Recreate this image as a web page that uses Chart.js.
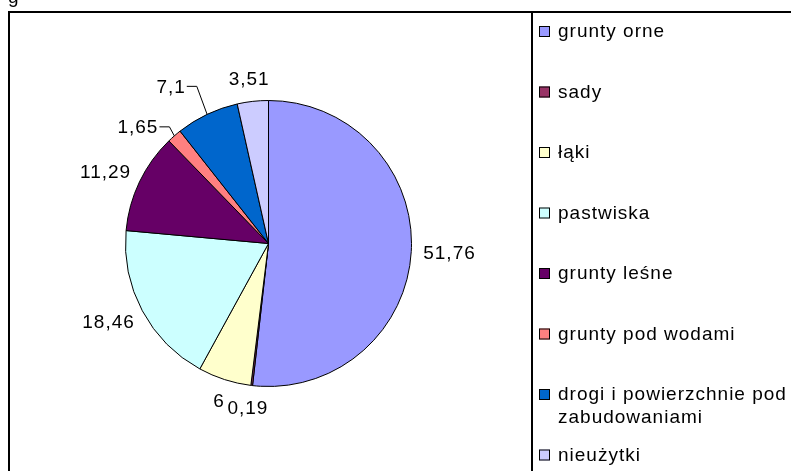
<!DOCTYPE html>
<html>
<head>
<meta charset="utf-8">
<script src="https://cdn.jsdelivr.net/npm/chart.js@4.4.0/dist/chart.umd.min.js"></script>
<style>
  html, body { margin: 0; padding: 0; background: #fff; }
  #wrap { width: 791px; height: 471px; position: relative; }
</style>
</head>
<body>
<div id="wrap"><canvas id="landChart"></canvas></div>
<script>
const categories = ['grunty orne', 'sady', 'łąki', 'pastwiska', 'grunty leśne',
  'grunty pod wodami', ['drogi i powierzchnie pod', 'zabudowaniami'], 'nieużytki'];
const shares = [51.76, 0.19, 6, 18.46, 11.29, 1.65, 7.1, 3.51];
const sliceColors = ['#9999FF', '#993366', '#FFFFCC', '#CCFFFF', '#660066', '#FF8080', '#0066CC', '#CCCCFF'];

const FONT = '19px "Liberation Sans", Arial, sans-serif';
// slices whose labels sit on a leader line (extra radial length)
const leaderLen = { 5: 12, 6: 31 };

const extras = {
  id: 'extras',
  afterDraw(chart) {
    const ctx = chart.ctx;
    const meta = chart.getDatasetMeta(0);
    ctx.save();
    ctx.fillStyle = '#000';
    ctx.strokeStyle = '#000';

    // outer frame + legend box
    ctx.lineWidth = 2;
    ctx.beginPath();
    ctx.moveTo(9, 480); ctx.lineTo(9, 12); ctx.lineTo(800, 12);
    ctx.moveTo(532, 12); ctx.lineTo(532, 480);
    ctx.stroke();

    ctx.font = FONT;
    ctx.letterSpacing = '1px';

    // cut-off title fragment
    ctx.textAlign = 'left';
    ctx.textBaseline = 'alphabetic';
    ctx.fillText('g', 8, 3);

    // value labels
    meta.data.forEach((arc, i) => {
      const p = arc.getProps(['x', 'y', 'startAngle', 'endAngle', 'outerRadius'], true);
      const mid = (p.startAngle + p.endAngle) / 2;
      const dx = Math.cos(mid), dy = Math.sin(mid);
      const text = String(shares[i]).replace('.', ',');
      const w = ctx.measureText(text).width;
      const h = 17;
      const lead = leaderLen[i];
      ctx.textBaseline = 'middle';
      if (lead) {
        const ex = p.x + dx * p.outerRadius, ey = p.y + dy * p.outerRadius;
        const kx = p.x + dx * (p.outerRadius + lead) + 3, ky = p.y + dy * (p.outerRadius + lead);
        const side = dx < 0 ? -1 : 1;
        ctx.lineWidth = 1;
        ctx.beginPath();
        ctx.moveTo(ex, ey); ctx.lineTo(kx, ky); ctx.lineTo(kx + side * 10, ky);
        ctx.stroke();
        ctx.textAlign = side < 0 ? 'right' : 'left';
        ctx.fillText(text, kx + side * 11, ky + 1);
      } else {
        const r = p.outerRadius + 10;
        const cx = p.x + dx * r + dx * (w / 2 + 2);
        const cy = p.y + dy * r + dy * (h / 2 + 4) + 1;
        ctx.textAlign = 'center';
        ctx.fillText(text, cx, cy);
      }
    });

    // legend
    ctx.textAlign = 'left';
    ctx.textBaseline = 'alphabetic';
    categories.forEach((lab, i) => {
      const y = 31.5 + 60.5 * i;
      ctx.fillStyle = sliceColors[i];
      ctx.fillRect(539, y - 5.5, 11, 11);
      ctx.lineWidth = 1;
      ctx.strokeStyle = '#000';
      ctx.strokeRect(539.5, y - 5, 10, 10);
      ctx.fillStyle = '#000';
      const lines = Array.isArray(lab) ? lab : [lab];
      lines.forEach((ln, k) => ctx.fillText(ln, 558, y + 5.5 + k * 23));
    });
    ctx.restore();
  }
};

new Chart(document.getElementById('landChart'), {
  type: 'pie',
  data: {
    labels: categories,
    datasets: [{
      data: shares,
      backgroundColor: sliceColors,
      borderColor: '#000',
      borderWidth: 1
    }]
  },
  options: {
    responsive: true,
    maintainAspectRatio: false,
    animation: false,
    layout: { padding: { left: 125, right: 379, top: 100, bottom: 84 } },
    plugins: {
      legend: { display: false },
      tooltip: { enabled: false }
    }
  },
  plugins: [extras]
});
</script>
</body>
</html>
